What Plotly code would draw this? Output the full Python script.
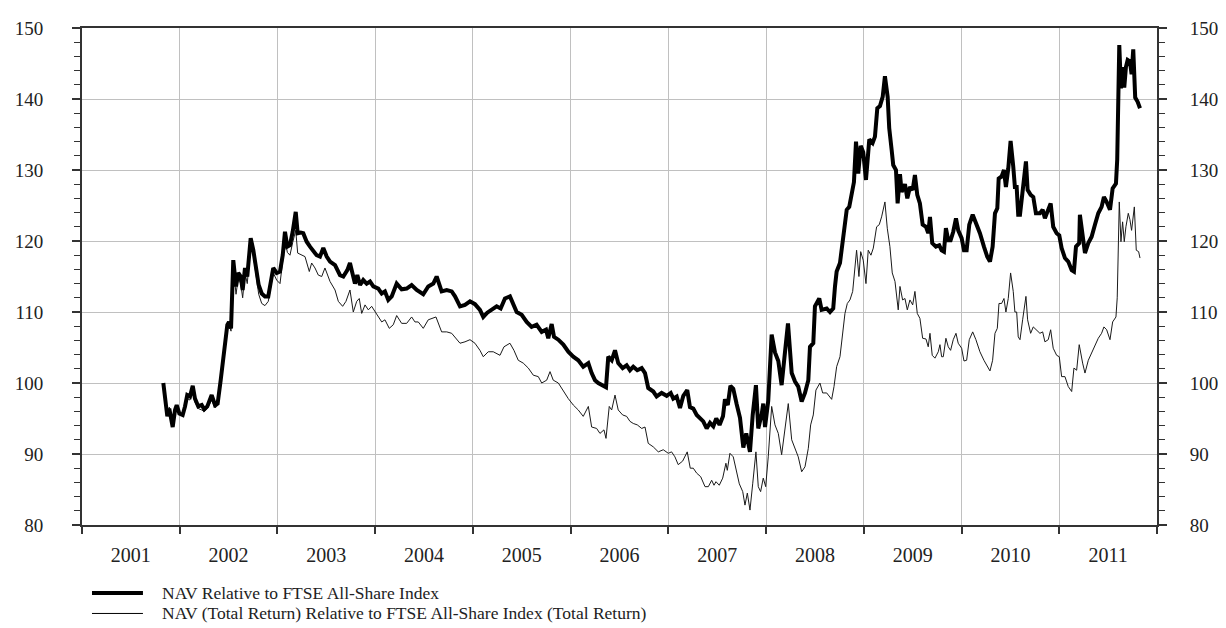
import plotly.graph_objects as go

# ---------------- data (decimal years, index values) ----------------
nav_dates = [
    2001.832, 2001.873, 2001.893, 2001.928, 2001.952, 2001.969, 2001.996, 2002.030, 2002.054, 2002.077,
    2002.105, 2002.133, 2002.156, 2002.190, 2002.225, 2002.251, 2002.282, 2002.327, 2002.361, 2002.388,
    2002.419, 2002.453, 2002.487, 2002.504, 2002.525, 2002.548, 2002.576, 2002.599, 2002.624, 2002.644,
    2002.668, 2002.691, 2002.726, 2002.753, 2002.780, 2002.808, 2002.839, 2002.872, 2002.906, 2002.931,
    2002.957, 2002.992, 2003.026, 2003.054, 2003.077, 2003.101, 2003.128, 2003.156, 2003.187, 2003.207,
    2003.238, 2003.264, 2003.299, 2003.333, 2003.367, 2003.401, 2003.435, 2003.469, 2003.504, 2003.538,
    2003.589, 2003.640, 2003.674, 2003.715, 2003.742, 2003.770, 2003.793, 2003.817, 2003.845, 2003.878,
    2003.913, 2003.947, 2003.981, 2004.032, 2004.067, 2004.100, 2004.134, 2004.169, 2004.220, 2004.271,
    2004.322, 2004.373, 2004.425, 2004.492, 2004.543, 2004.595, 2004.629, 2004.680, 2004.732, 2004.783,
    2004.817, 2004.868, 2004.919, 2004.970, 2005.021, 2005.072, 2005.106, 2005.147, 2005.192, 2005.243,
    2005.284, 2005.328, 2005.379, 2005.413, 2005.448, 2005.499, 2005.550, 2005.601, 2005.652, 2005.704,
    2005.748, 2005.771, 2005.806, 2005.830, 2005.874, 2005.925, 2005.976, 2006.027, 2006.078, 2006.129,
    2006.181, 2006.215, 2006.249, 2006.283, 2006.318, 2006.362, 2006.385, 2006.420, 2006.454, 2006.487,
    2006.532, 2006.573, 2006.607, 2006.641, 2006.682, 2006.727, 2006.761, 2006.794, 2006.846, 2006.880,
    2006.931, 2006.983, 2007.024, 2007.050, 2007.085, 2007.119, 2007.153, 2007.193, 2007.221, 2007.255,
    2007.290, 2007.323, 2007.357, 2007.392, 2007.426, 2007.460, 2007.490, 2007.524, 2007.559, 2007.579,
    2007.608, 2007.635, 2007.664, 2007.699, 2007.733, 2007.767, 2007.797, 2007.835, 2007.863, 2007.896,
    2007.920, 2007.955, 2007.971, 2007.989, 2008.022, 2008.057, 2008.091, 2008.125, 2008.159, 2008.193,
    2008.224, 2008.262, 2008.296, 2008.329, 2008.364, 2008.398, 2008.432, 2008.449, 2008.483, 2008.500,
    2008.544, 2008.568, 2008.620, 2008.654, 2008.687, 2008.705, 2008.722, 2008.756, 2008.782, 2008.802,
    2008.825, 2008.851, 2008.876, 2008.899, 2008.920, 2008.943, 2008.968, 2008.994, 2009.022, 2009.056,
    2009.090, 2009.114, 2009.138, 2009.165, 2009.193, 2009.216, 2009.244, 2009.260, 2009.285, 2009.301,
    2009.329, 2009.346, 2009.370, 2009.387, 2009.421, 2009.445, 2009.472, 2009.500, 2009.523, 2009.547,
    2009.574, 2009.602, 2009.636, 2009.659, 2009.677, 2009.700, 2009.738, 2009.772, 2009.796, 2009.820,
    2009.840, 2009.864, 2009.888, 2009.915, 2009.943, 2009.966, 2010.001, 2010.025, 2010.052, 2010.079,
    2010.114, 2010.147, 2010.188, 2010.229, 2010.263, 2010.291, 2010.318, 2010.342, 2010.366, 2010.380,
    2010.410, 2010.434, 2010.454, 2010.478, 2010.502, 2010.529, 2010.546, 2010.564, 2010.580, 2010.598,
    2010.625, 2010.659, 2010.676, 2010.707, 2010.734, 2010.761, 2010.802, 2010.830, 2010.853, 2010.887,
    2010.912, 2010.938, 2010.973, 2011.000, 2011.024, 2011.058, 2011.092, 2011.127, 2011.150, 2011.171,
    2011.204, 2011.211, 2011.239, 2011.263, 2011.297, 2011.331, 2011.365, 2011.399, 2011.433, 2011.457,
    2011.485, 2011.519, 2011.546, 2011.580, 2011.593, 2011.614, 2011.631, 2011.648, 2011.665, 2011.682,
    2011.700, 2011.723, 2011.740, 2011.757, 2011.777, 2011.802, 2011.826,
]
nav_values = [
    100.0, 95.3, 96.4, 93.8, 96.2, 96.9, 95.7, 95.5, 96.7, 98.3,
    98.1, 99.6, 97.8, 96.7, 96.9, 96.3, 96.7, 98.3, 96.9, 97.1,
    100.4, 104.2, 108.2, 108.6, 107.7, 117.3, 113.6, 115.5, 115.0, 113.1,
    116.2, 115.0, 120.4, 118.7, 116.4, 113.8, 112.6, 112.2, 112.2, 114.0,
    116.2, 115.5, 115.7, 118.0, 121.3, 119.2, 119.4, 121.3, 124.1, 121.1,
    121.2, 121.1, 119.9, 119.2, 118.7, 118.0, 117.8, 119.0, 117.8, 117.1,
    116.6, 115.2, 115.0, 115.9, 116.9, 115.0, 114.0, 115.2, 113.8, 114.5,
    114.0, 114.3, 113.6, 113.3, 112.6, 112.9, 111.7, 112.2, 114.0, 113.2,
    113.3, 113.8, 113.1, 112.5, 113.6, 114.0, 115.0, 112.9, 113.1, 112.9,
    112.2, 110.8, 111.0, 111.5, 111.1, 110.3, 109.3, 109.9, 110.3, 110.8,
    110.5, 111.9, 112.2, 111.2, 110.0, 109.6, 108.6, 107.9, 108.2, 107.2,
    107.5, 106.3, 108.3, 106.5, 106.1, 105.4, 104.4, 103.7, 103.2, 102.3,
    102.8, 101.4, 100.4, 100.0, 99.7, 99.4, 103.7, 103.2, 104.6, 102.8,
    102.1, 102.5, 101.8, 102.3, 101.8, 102.1, 101.4, 99.3, 98.8, 98.1,
    98.6, 98.2, 98.6, 97.8, 98.1, 96.5, 98.2, 99.0, 96.6, 96.4,
    95.5, 95.0, 94.6, 93.6, 94.4, 93.9, 95.0, 94.1, 95.3, 97.7,
    96.9, 99.6, 99.2, 97.0, 95.1, 90.9, 92.9, 90.3, 95.5, 99.7,
    93.6, 95.6, 97.1, 93.8, 97.5, 106.8, 104.3, 103.1, 99.7, 104.3,
    108.4, 101.4, 100.2, 99.5, 97.4, 98.6, 100.4, 105.1, 105.6, 110.8,
    111.9, 110.3, 110.5, 110.0, 110.5, 113.6, 115.7, 116.9, 119.5, 121.8,
    124.4, 124.8, 126.7, 128.3, 134.0, 129.5, 133.4, 132.5, 128.6, 134.3,
    133.8, 134.7, 138.7, 139.0, 140.3, 143.2, 140.3, 135.9, 132.8, 130.7,
    130.0, 125.3, 129.4, 126.9, 128.0, 126.0, 127.6, 127.2, 129.3, 126.5,
    125.3, 122.3, 122.0, 121.1, 123.4, 119.7, 119.2, 119.4, 118.7, 118.5,
    121.8, 120.1, 120.1, 121.3, 123.2, 121.5, 120.4, 118.7, 118.7, 122.3,
    123.7, 122.5, 121.1, 119.2, 117.8, 117.1, 119.2, 123.9, 124.6, 128.8,
    129.1, 130.0, 127.6, 130.2, 134.1, 130.5, 127.6, 127.6, 123.7, 123.7,
    127.2, 131.2, 127.2, 126.5, 126.2, 123.9, 123.9, 124.4, 123.2, 124.4,
    125.3, 122.0, 121.1, 120.8, 119.0, 117.6, 117.1, 115.9, 115.7, 119.2,
    119.7, 123.7, 121.1, 118.3, 119.7, 120.6, 122.3, 123.9, 124.8, 126.2,
    125.5, 124.4, 127.4, 128.1, 131.5, 147.6, 141.5, 144.5, 141.6, 144.5,
    145.5, 145.3, 143.5, 147.0, 140.2, 139.6, 138.7,
]

tr_dates = [
    2001.832, 2001.873, 2001.893, 2001.928, 2001.952, 2001.969, 2001.996, 2002.030, 2002.054, 2002.077,
    2002.105, 2002.133, 2002.156, 2002.190, 2002.225, 2002.251, 2002.282, 2002.327, 2002.361, 2002.388,
    2002.419, 2002.453, 2002.487, 2002.504, 2002.525, 2002.548, 2002.576, 2002.599, 2002.624, 2002.644,
    2002.668, 2002.691, 2002.726, 2002.753, 2002.780, 2002.808, 2002.839, 2002.872, 2002.906, 2002.931,
    2002.957, 2002.992, 2003.026, 2003.054, 2003.077, 2003.101, 2003.128, 2003.156, 2003.187, 2003.207,
    2003.248, 2003.282, 2003.326, 2003.350, 2003.384, 2003.418, 2003.453, 2003.486, 2003.538, 2003.589,
    2003.623, 2003.667, 2003.701, 2003.742, 2003.776, 2003.811, 2003.837, 2003.862, 2003.896, 2003.930,
    2003.964, 2004.008, 2004.067, 2004.100, 2004.144, 2004.185, 2004.220, 2004.271, 2004.322, 2004.373,
    2004.407, 2004.441, 2004.492, 2004.543, 2004.595, 2004.622, 2004.680, 2004.732, 2004.783, 2004.817,
    2004.868, 2004.919, 2004.970, 2005.021, 2005.072, 2005.106, 2005.157, 2005.208, 2005.277, 2005.318,
    2005.379, 2005.420, 2005.464, 2005.515, 2005.567, 2005.618, 2005.669, 2005.704, 2005.755, 2005.789,
    2005.822, 2005.874, 2005.925, 2005.976, 2006.027, 2006.078, 2006.129, 2006.181, 2006.215, 2006.266,
    2006.300, 2006.341, 2006.362, 2006.395, 2006.420, 2006.454, 2006.487, 2006.532, 2006.573, 2006.607,
    2006.641, 2006.682, 2006.727, 2006.761, 2006.794, 2006.846, 2006.897, 2006.948, 2006.999, 2007.033,
    2007.067, 2007.101, 2007.146, 2007.193, 2007.224, 2007.255, 2007.290, 2007.331, 2007.375, 2007.409,
    2007.443, 2007.467, 2007.487, 2007.521, 2007.556, 2007.589, 2007.603, 2007.630, 2007.664, 2007.692,
    2007.726, 2007.761, 2007.784, 2007.808, 2007.835, 2007.863, 2007.896, 2007.920, 2007.944, 2007.971,
    2007.996, 2008.022, 2008.057, 2008.091, 2008.125, 2008.159, 2008.193, 2008.227, 2008.262, 2008.296,
    2008.329, 2008.364, 2008.398, 2008.432, 2008.456, 2008.483, 2008.510, 2008.551, 2008.579, 2008.620,
    2008.671, 2008.695, 2008.722, 2008.756, 2008.784, 2008.807, 2008.831, 2008.858, 2008.886, 2008.909,
    2008.926, 2008.950, 2008.968, 2008.994, 2009.022, 2009.045, 2009.073, 2009.097, 2009.131, 2009.158,
    2009.182, 2009.216, 2009.240, 2009.267, 2009.291, 2009.319, 2009.352, 2009.370, 2009.397, 2009.421,
    2009.445, 2009.472, 2009.500, 2009.523, 2009.547, 2009.574, 2009.602, 2009.636, 2009.659, 2009.677,
    2009.700, 2009.728, 2009.762, 2009.779, 2009.796, 2009.813, 2009.840, 2009.864, 2009.888, 2009.915,
    2009.943, 2009.966, 2010.001, 2010.025, 2010.052, 2010.079, 2010.114, 2010.147, 2010.188, 2010.229,
    2010.263, 2010.291, 2010.318, 2010.342, 2010.366, 2010.383, 2010.410, 2010.434, 2010.454, 2010.478,
    2010.502, 2010.529, 2010.546, 2010.564, 2010.580, 2010.598, 2010.625, 2010.659, 2010.676, 2010.707,
    2010.734, 2010.761, 2010.802, 2010.830, 2010.853, 2010.887, 2010.912, 2010.938, 2010.973, 2011.000,
    2011.024, 2011.058, 2011.092, 2011.127, 2011.150, 2011.178, 2011.204, 2011.239, 2011.263, 2011.297,
    2011.331, 2011.365, 2011.399, 2011.433, 2011.457, 2011.485, 2011.519, 2011.546, 2011.580, 2011.593,
    2011.604, 2011.614, 2011.631, 2011.648, 2011.665, 2011.682, 2011.706, 2011.723, 2011.740, 2011.768,
    2011.788, 2011.812, 2011.826,
]
tr_values = [
    100.0, 95.5, 96.6, 95.0, 96.5, 96.9, 95.9, 95.7, 96.5, 97.8,
    97.6, 99.0, 97.3, 96.4, 96.2, 96.0, 96.4, 97.6, 96.5, 96.8,
    99.8, 103.7, 107.8, 108.3, 107.3, 116.5, 112.5, 114.8, 114.0, 112.0,
    115.5, 114.0, 119.5, 118.0, 115.5, 112.5, 111.2, 110.9, 111.5, 113.5,
    115.5, 114.5, 114.0, 117.2, 120.3, 118.4, 118.0, 119.8, 121.5, 118.3,
    118.0, 117.8, 115.7, 116.9, 116.2, 115.2, 115.0, 116.2, 114.3, 113.1,
    111.5, 110.8, 111.5, 113.1, 110.0, 111.5, 111.9, 109.8, 111.0, 110.3,
    110.8, 109.8, 108.6, 108.9, 107.7, 108.2, 109.5, 108.4, 108.4, 109.3,
    108.6, 108.6, 107.7, 108.9, 109.1, 109.3, 107.2, 107.2, 107.0, 106.5,
    105.6, 105.8, 106.1, 105.6, 104.6, 103.7, 104.4, 104.4, 103.9, 105.1,
    105.6, 104.6, 103.2, 102.8, 102.1, 101.1, 100.9, 100.0, 100.4, 101.6,
    100.4, 100.0, 98.8, 97.8, 96.9, 96.2, 95.3, 96.7, 93.8, 93.6,
    92.9, 93.4, 92.2, 96.7, 96.2, 98.3, 96.2, 95.5, 95.3, 94.6,
    94.3, 94.1, 93.6, 93.8, 91.5, 91.0, 90.3, 90.6, 90.1, 90.3,
    89.6, 88.5, 89.0, 90.3, 88.0, 88.0, 87.3, 86.8, 85.4, 85.4,
    86.3, 85.6, 86.1, 85.6, 86.6, 88.7, 87.7, 90.1, 89.6, 87.7,
    85.8, 84.7, 82.8, 84.5, 82.1, 85.8, 90.3, 85.4, 84.7, 86.6,
    85.4, 89.6, 96.7, 94.1, 92.9, 89.9, 93.8, 97.1, 92.0, 90.8,
    89.6, 87.5, 88.2, 90.8, 94.1, 95.5, 99.0, 100.0, 98.6, 98.6,
    97.7, 99.5, 102.3, 103.7, 107.0, 109.8, 111.2, 111.7, 112.9, 116.2,
    118.7, 115.0, 118.5, 117.3, 114.0, 118.7, 118.0, 119.0, 122.0, 122.3,
    123.4, 125.5, 121.8, 119.2, 115.5, 114.3, 110.3, 113.6, 111.7, 111.9,
    110.3, 111.7, 111.0, 112.9, 109.8, 109.1, 106.3, 106.2, 105.1, 107.0,
    103.9, 103.5, 104.4, 105.4, 103.7, 103.7, 106.3, 105.1, 104.6, 106.1,
    107.0, 105.6, 104.9, 103.1, 103.2, 106.1, 107.2, 106.1, 104.4, 103.2,
    102.3, 101.7, 103.2, 107.0, 107.7, 111.2, 111.2, 111.9, 110.0, 111.9,
    115.5, 112.9, 110.0, 110.0, 106.5, 106.1, 108.9, 112.2, 108.9, 107.0,
    107.9, 107.5, 107.0, 107.2, 105.8, 106.1, 107.5, 104.9, 103.9, 103.7,
    100.9, 100.9, 99.5, 98.8, 102.1, 101.8, 105.4, 102.8, 101.4, 103.2,
    104.2, 105.4, 106.3, 107.0, 107.9, 107.5, 106.1, 108.6, 109.3, 112.0,
    118.3, 125.5, 119.9, 122.7, 119.9, 122.0, 123.9, 123.0, 121.5, 124.8,
    118.7, 118.5, 117.6,
]

year_labels = ["2001", "2002", "2003", "2004", "2005", "2006",
               "2007", "2008", "2009", "2010", "2011"]
year_starts = [2001, 2002, 2003, 2004, 2005, 2006, 2007, 2008, 2009, 2010, 2011, 2012]
year_mids = [2001.5, 2002.5, 2003.5, 2004.5, 2005.5, 2006.5,
             2007.5, 2008.5, 2009.5, 2010.5, 2011.5]

nav_name = "NAV Relative to FTSE All-Share Index"
tr_name = "NAV (Total Return) Relative to FTSE All-Share Index (Total Return)"

# ---------------- figure ----------------
FONT = "Liberation Serif, Times New Roman, serif"
AXIS_COL = "#333333"
GRID_COL = "#c0c0c0"

fig = go.Figure()
fig.add_trace(go.Scatter(x=tr_dates, y=tr_values, mode="lines", name=tr_name,
                         line=dict(color="#1a1a1a", width=1), showlegend=False))
fig.add_trace(go.Scatter(x=nav_dates, y=nav_values, mode="lines", name=nav_name,
                         line=dict(color="#000000", width=4), showlegend=False))
# empty trace to carry the right-hand axis
fig.add_trace(go.Scatter(x=[], y=[], yaxis="y2", showlegend=False, hoverinfo="skip"))

yaxis_common = dict(
    range=[80, 150], tickmode="linear", tick0=80, dtick=10,
    ticks="outside", ticklen=8, tickwidth=1.5, tickcolor=AXIS_COL,
    showline=True, linewidth=2, linecolor=AXIS_COL, zeroline=False,
    tickfont=dict(family=FONT, size=19, color="#222222"),
    minor=dict(tickmode="linear", tick0=80, dtick=2, ticks="outside",
               ticklen=6, tickwidth=1.2, tickcolor=AXIS_COL, showgrid=False),
    fixedrange=True, automargin=False,
)

# the page body has an 8px margin, so the figure is 8px smaller than the window
fig.update_layout(
    width=1218, height=620,
    margin=dict(l=74, r=69, t=20, b=103, autoexpand=False),
    paper_bgcolor="white", plot_bgcolor="white",
    showlegend=False, hovermode=False,
    xaxis=dict(
        range=[2001, 2012], tickmode="array", tickvals=year_mids, ticktext=year_labels,
        ticks="", showgrid=False, zeroline=False,
        showline=True, linewidth=2, linecolor=AXIS_COL, mirror=True,
        tickfont=dict(family=FONT, size=20, color="#222222"),
        ticklabelstandoff=11, automargin=False,
        minor=dict(tickmode="array", tickvals=year_starts, ticks="outside",
                   ticklen=7, tickwidth=1.5, tickcolor=AXIS_COL,
                   showgrid=True, gridcolor=GRID_COL, gridwidth=1),
        fixedrange=True,
    ),
    yaxis=dict(**yaxis_common, side="left", showgrid=True, gridcolor=GRID_COL,
               gridwidth=1, ticklabelstandoff=25),
    yaxis2=dict(**yaxis_common, side="right", overlaying="y", showgrid=False,
                ticklabelstandoff=19),
)

# ---------------- legend (drawn below the plot) ----------------
legend_items = [(nav_name, 4, -0.137), (tr_name, 1, -0.178)]
for label, width, ypos in legend_items:
    fig.add_shape(type="line", xref="paper", yref="paper",
                  x0=0.0093, x1=0.0567, y0=ypos, y1=ypos,
                  line=dict(color="#000000", width=width))
    fig.add_annotation(text=label, xref="paper", yref="paper", x=0.0726, y=ypos,
                       xanchor="left", yanchor="middle", showarrow=False,
                       font=dict(family=FONT, size=17.5, color="#222222"))

fig.write_html("out.html")
